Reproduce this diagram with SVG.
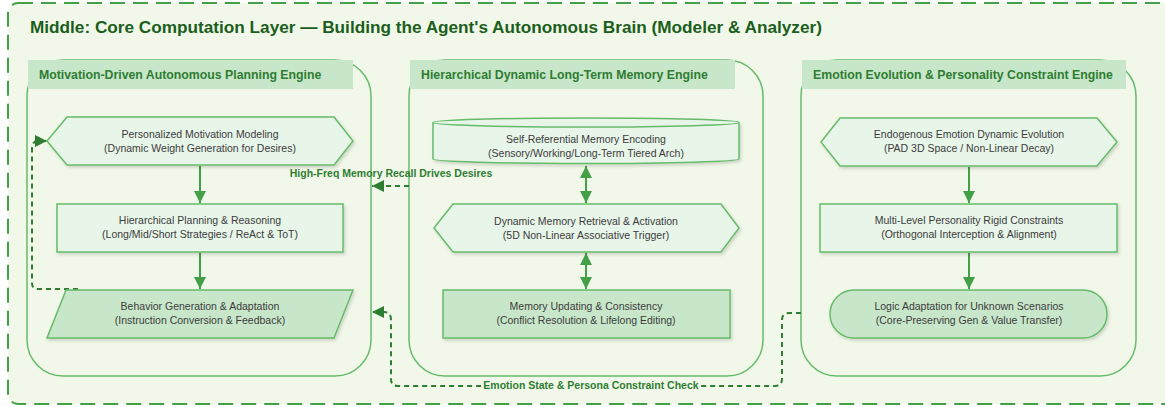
<svg xmlns="http://www.w3.org/2000/svg" width="1165" height="407" viewBox="0 0 1165 407">
<style>
.title{font-family:"Liberation Sans",Arial,sans-serif;font-weight:bold;font-size:17.2px;fill:#1b5e20}
.cl{fill:none;stroke:#66bb6a;stroke-width:1.5}
.hdr{fill:#c8e6c9}
.hdrt{font-family:"Liberation Sans",Arial,sans-serif;font-weight:bold;font-size:12.3px;fill:#2e7d32}
.n{fill:#e8f5e9;stroke:#66bb6a;stroke-width:1.5;filter:url(#sh)}
.nd{fill:#c8e6c9;stroke:#66bb6a;stroke-width:1.5;filter:url(#sh)}
.t{font-family:"Liberation Sans",Arial,sans-serif;font-size:10.5px;fill:#3c3c3c;text-anchor:middle}
.e{fill:none;stroke:#43a047;stroke-width:2}
.d{fill:none;stroke:#2e7d32;stroke-width:2;stroke-dasharray:5,4}
.lbl{font-family:"Liberation Sans",Arial,sans-serif;font-weight:bold;font-size:10.5px;fill:#2e7d32;text-anchor:middle}
</style>
<defs>
<filter id="sh" x="-10%" y="-20%" width="125%" height="150%">
<feDropShadow dx="1.5" dy="2" stdDeviation="1.5" flood-color="#000" flood-opacity="0.15"/>
</filter>
<marker id="as" markerUnits="userSpaceOnUse" markerWidth="12" markerHeight="12" refX="10" refY="5" orient="auto" viewBox="0 0 10 10">
<path d="M0,0 L10,5 L0,10 Z" fill="#43a047"/>
</marker>
<marker id="asr" markerUnits="userSpaceOnUse" markerWidth="12" markerHeight="12" refX="0" refY="5" orient="auto" viewBox="0 0 10 10">
<path d="M10,0 L0,5 L10,10 Z" fill="#43a047"/>
</marker>
<marker id="ad" markerUnits="userSpaceOnUse" markerWidth="12" markerHeight="12" refX="10" refY="5" orient="auto" viewBox="0 0 10 10">
<path d="M0,0 L10,5 L0,10 Z" fill="#2e7d32"/>
</marker>
</defs>
<rect x="0" y="0" width="1165" height="407" fill="#ffffff"/>
<rect x="8" y="3" width="1175" height="401" rx="10" fill="#f1f8e9" stroke="#43a047" stroke-width="2" stroke-dasharray="15,8"/>
<text class="title" x="30" y="33">Middle: Core Computation Layer — Building the Agent's Autonomous Brain (Modeler &amp; Analyzer)</text>

<g id="cluster-planning">
<rect class="cl" x="27" y="60" width="344" height="316" rx="36"/>
<rect class="hdr" x="28" y="60" width="325" height="29"/>
<text class="hdrt" x="39" y="79">Motivation-Driven Autonomous Planning Engine</text>
</g>
<g id="cluster-memory">
<rect class="cl" x="409" y="60" width="354" height="316" rx="36"/>
<rect class="hdr" x="410" y="60" width="325" height="29"/>
<text class="hdrt" x="421" y="79">Hierarchical Dynamic Long-Term Memory Engine</text>
</g>
<g id="cluster-emotion">
<rect class="cl" x="801" y="60" width="335" height="316" rx="36"/>
<rect class="hdr" x="802" y="60" width="324" height="29"/>
<text class="hdrt" x="813" y="79">Emotion Evolution &amp; Personality Constraint Engine</text>
</g>

<g id="connectors">
<path class="e" d="M200,166 L200,203" marker-end="url(#as)"/>
<path class="e" d="M200,253 L200,289" marker-end="url(#as)"/>
<path class="e" d="M586,166 L586,203" marker-start="url(#asr)" marker-end="url(#as)"/>
<path class="e" d="M586,253 L586,289" marker-start="url(#asr)" marker-end="url(#as)"/>
<path class="e" d="M969,167 L969,203" marker-end="url(#as)"/>
<path class="e" d="M969,253 L969,289" marker-end="url(#as)"/>
<path class="d" d="M78,289 L38,289 Q32,289 32,283 L32,149 Q32,141 38,141 L47,141" marker-end="url(#ad)"/>
<path class="d" d="M409,186 L372,186" marker-end="url(#ad)"/>
<text class="lbl" x="391" y="177">High-Freq Memory Recall Drives Desires</text>
<path class="d" d="M801,313 L789,313 Q782,313 782,320 L782,379 Q782,386 775,386 L398,386 Q391,386 391,379 L391,320 Q391,312 384,312 L372,312" marker-end="url(#ad)"/>
<rect x="484" y="379" width="214" height="13" fill="#f1f8e9"/>
<text class="lbl" x="591" y="389">Emotion State &amp; Persona Constraint Check</text>
</g>

<g id="node-motivation">
<polygon class="n" points="47,141 67,117 334,117 353,141 334,165 67,165"/>
<text class="t" x="200" y="138">Personalized Motivation Modeling</text>
<text class="t" x="200" y="152">(Dynamic Weight Generation for Desires)</text>
</g>
<g id="node-planning">
<rect class="n" x="57" y="204" width="286" height="48"/>
<text class="t" x="200" y="224">Hierarchical Planning &amp; Reasoning</text>
<text class="t" x="200" y="238">(Long/Mid/Short Strategies / ReAct &amp; ToT)</text>
</g>
<g id="node-behavior">
<polygon class="nd" points="66,290 353,290 334,338 47,338"/>
<text class="t" x="200" y="310">Behavior Generation &amp; Adaptation</text>
<text class="t" x="200" y="324">(Instruction Conversion &amp; Feedback)</text>
</g>

<g id="node-encoding">
<path class="n" d="M433,122.5 A153,4.5 0 0 1 739,122.5 L739,159 A153,4.5 0 0 1 433,159 Z"/>
<path d="M433,122.5 A153,4.5 0 0 0 739,122.5" fill="none" stroke="#66bb6a" stroke-width="1.5"/>
<text class="t" x="586" y="143">Self-Referential Memory Encoding</text>
<text class="t" x="586" y="157">(Sensory/Working/Long-Term Tiered Arch)</text>
</g>
<g id="node-retrieval">
<polygon class="n" points="434,228 453,204 721,204 739,228 721,252 453,252"/>
<text class="t" x="586" y="225">Dynamic Memory Retrieval &amp; Activation</text>
<text class="t" x="586" y="239">(5D Non-Linear Associative Trigger)</text>
</g>
<g id="node-updating">
<rect class="nd" x="443" y="290" width="287" height="48"/>
<text class="t" x="586" y="310">Memory Updating &amp; Consistency</text>
<text class="t" x="586" y="324">(Conflict Resolution &amp; Lifelong Editing)</text>
</g>

<g id="node-emotion">
<polygon class="n" points="821,142 840,118 1097,118 1117,142 1097,166 840,166"/>
<text class="t" x="969" y="138">Endogenous Emotion Dynamic Evolution</text>
<text class="t" x="969" y="152">(PAD 3D Space / Non-Linear Decay)</text>
</g>
<g id="node-personality">
<rect class="n" x="820" y="204" width="297" height="48"/>
<text class="t" x="969" y="224">Multi-Level Personality Rigid Constraints</text>
<text class="t" x="969" y="238">(Orthogonal Interception &amp; Alignment)</text>
</g>
<g id="node-logic">
<rect class="nd" x="830" y="290" width="277" height="48" rx="24"/>
<text class="t" x="969" y="310">Logic Adaptation for Unknown Scenarios</text>
<text class="t" x="969" y="324">(Core-Preserving Gen &amp; Value Transfer)</text>
</g>
</svg>
